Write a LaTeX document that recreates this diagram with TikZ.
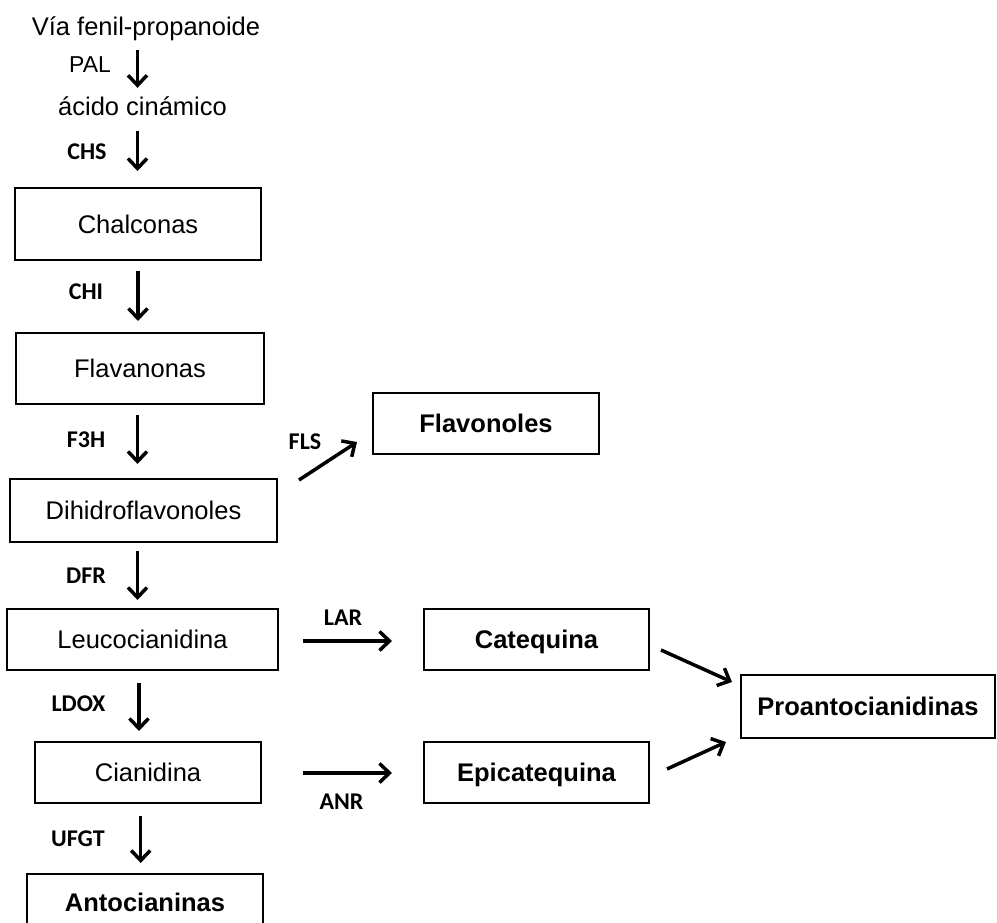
\documentclass[tikz,border=0pt]{standalone}
\usepackage{fontspec}
\setmainfont{Liberation Sans}
\newfontfamily\labfont{Carlito}
\usetikzlibrary{arrows.meta,calc}

\tikzset{
  box/.style={draw=black, line width=2pt, inner sep=0pt, text height=18pt, text depth=0pt,
    font=\fontsize{25.5}{30}\selectfont},
  boldbox/.style={box, font=\fontsize{25.5}{30}\selectfont\bfseries},
  plain/.style={inner sep=0pt, text height=18pt, text depth=0pt, font=\fontsize{25.5}{30}\selectfont},
  enz/.style={inner sep=0pt, text height=15.5pt, text depth=0pt, font=\fontsize{24}{28}\selectfont\labfont\bfseries},
  arr/.style={line width=3.5pt, -{Straight Barb[length=10pt,width=19pt]}},
}

\begin{document}
\begin{tikzpicture}[x=1pt,y=-1pt]
\useasboundingbox[fill=white] (0,0) rectangle (997,922);

% main pathway
\node[plain] (via) at (146,26) {Vía fenil-propanoide};
\node[plain] (acido) at (142.5,106) {ácido cinámico};
\node[box, minimum width=246pt, minimum height=72pt] (chal) at (138,224) {Chalconas};
\node[box, minimum width=248pt, minimum height=71pt] (flav) at (140,368.5) {Flavanonas};
\node[box, minimum width=267pt, minimum height=63pt] (dihi) at (143.5,510.5) {Dihidroflavonoles};
\node[box, minimum width=271pt, minimum height=61pt] (leuco) at (142.5,639.5) {Leucocianidina};
\node[box, minimum width=226pt, minimum height=61pt] (cian) at (148,772.5) {Cianidina};
\node[boldbox, minimum width=236pt, minimum height=56pt] (anto) at (145,902) {Antocianinas};

% branches
\node[boldbox, minimum width=226pt, minimum height=61pt] (flavol) at (486,423.5) {Flavonoles};
\node[boldbox, minimum width=225pt, minimum height=61pt] (cat) at (536.5,639.5) {Catequina};
\node[boldbox, minimum width=225pt, minimum height=61pt] (epi) at (536.5,772.5) {Epicatequina};
\node[boldbox, minimum width=254pt, minimum height=63pt] (pro) at (868,706.5) {Proantocianidinas};

% enzyme labels
\node[plain, font=\fontsize{23}{27}\selectfont, text height=16.5pt] (lPAL) at (90,64) {PAL};
\node[enz] (lCHS) at (87,151.5) {CHS};
\node[enz] (lCHI) at (86,292) {CHI};
\node[enz] (lF3H) at (86,439.5) {F3H};
\node[enz] (lFLS) at (305,441.5) {FLS};
\node[enz] (lDFR) at (86,575.5) {DFR};
\node[enz] (lLAR) at (343,618) {LAR};
\node[enz] (lLDOX) at (78.5,704) {LDOX};
\node[enz] (lANR) at (341.5,802) {ANR};
\node[enz] (lUFGT) at (78,839) {UFGT};

% reaction arrows
\draw[arr] ($(via.south)+(-8.5,15)$) -- ($(acido.north)+(-5,-9)$);
\draw[arr] ($(acido.south)+(-5,16)$) -- ($(chal.north)+(-0.5,-16)$);
\draw[arr] ($(chal.south)+(0,10)$) -- ($(flav.north)+(-2,-11)$);
\draw[arr] ($(flav.south)+(-2.5,10)$) -- ($(dihi.north)+(-6,-14)$);
\draw[arr] ($(dihi.east)+(21,-30.5)$) -- ($(flavol.west)+(-15,18.5)$);
\draw[arr] ($(dihi.south)+(-6,8)$) -- ($(leuco.north)+(-5,-8)$);
\draw[arr] ($(leuco.east)+(24,1.5)$) -- ($(cat.west)+(-31,1.5)$);
\draw[arr] ($(leuco.south)+(-3.5,12)$) -- ($(cian.north)+(-9,-10)$);
\draw[arr] ($(cian.east)+(41,0.5)$) -- ($(epi.west)+(-31,0.5)$);
\draw[arr] ($(cian.south)+(-7.3,12)$) -- ($(anto.north)+(-4.3,-10)$);
\draw[arr] ($(cat.east)+(11,10.5)$) -- ($(pro.west)+(-8,-24.5)$);
\draw[arr] ($(epi.east)+(17,-3.5)$) -- ($(pro.west)+(-14,35.5)$);
\end{tikzpicture}
\end{document}
